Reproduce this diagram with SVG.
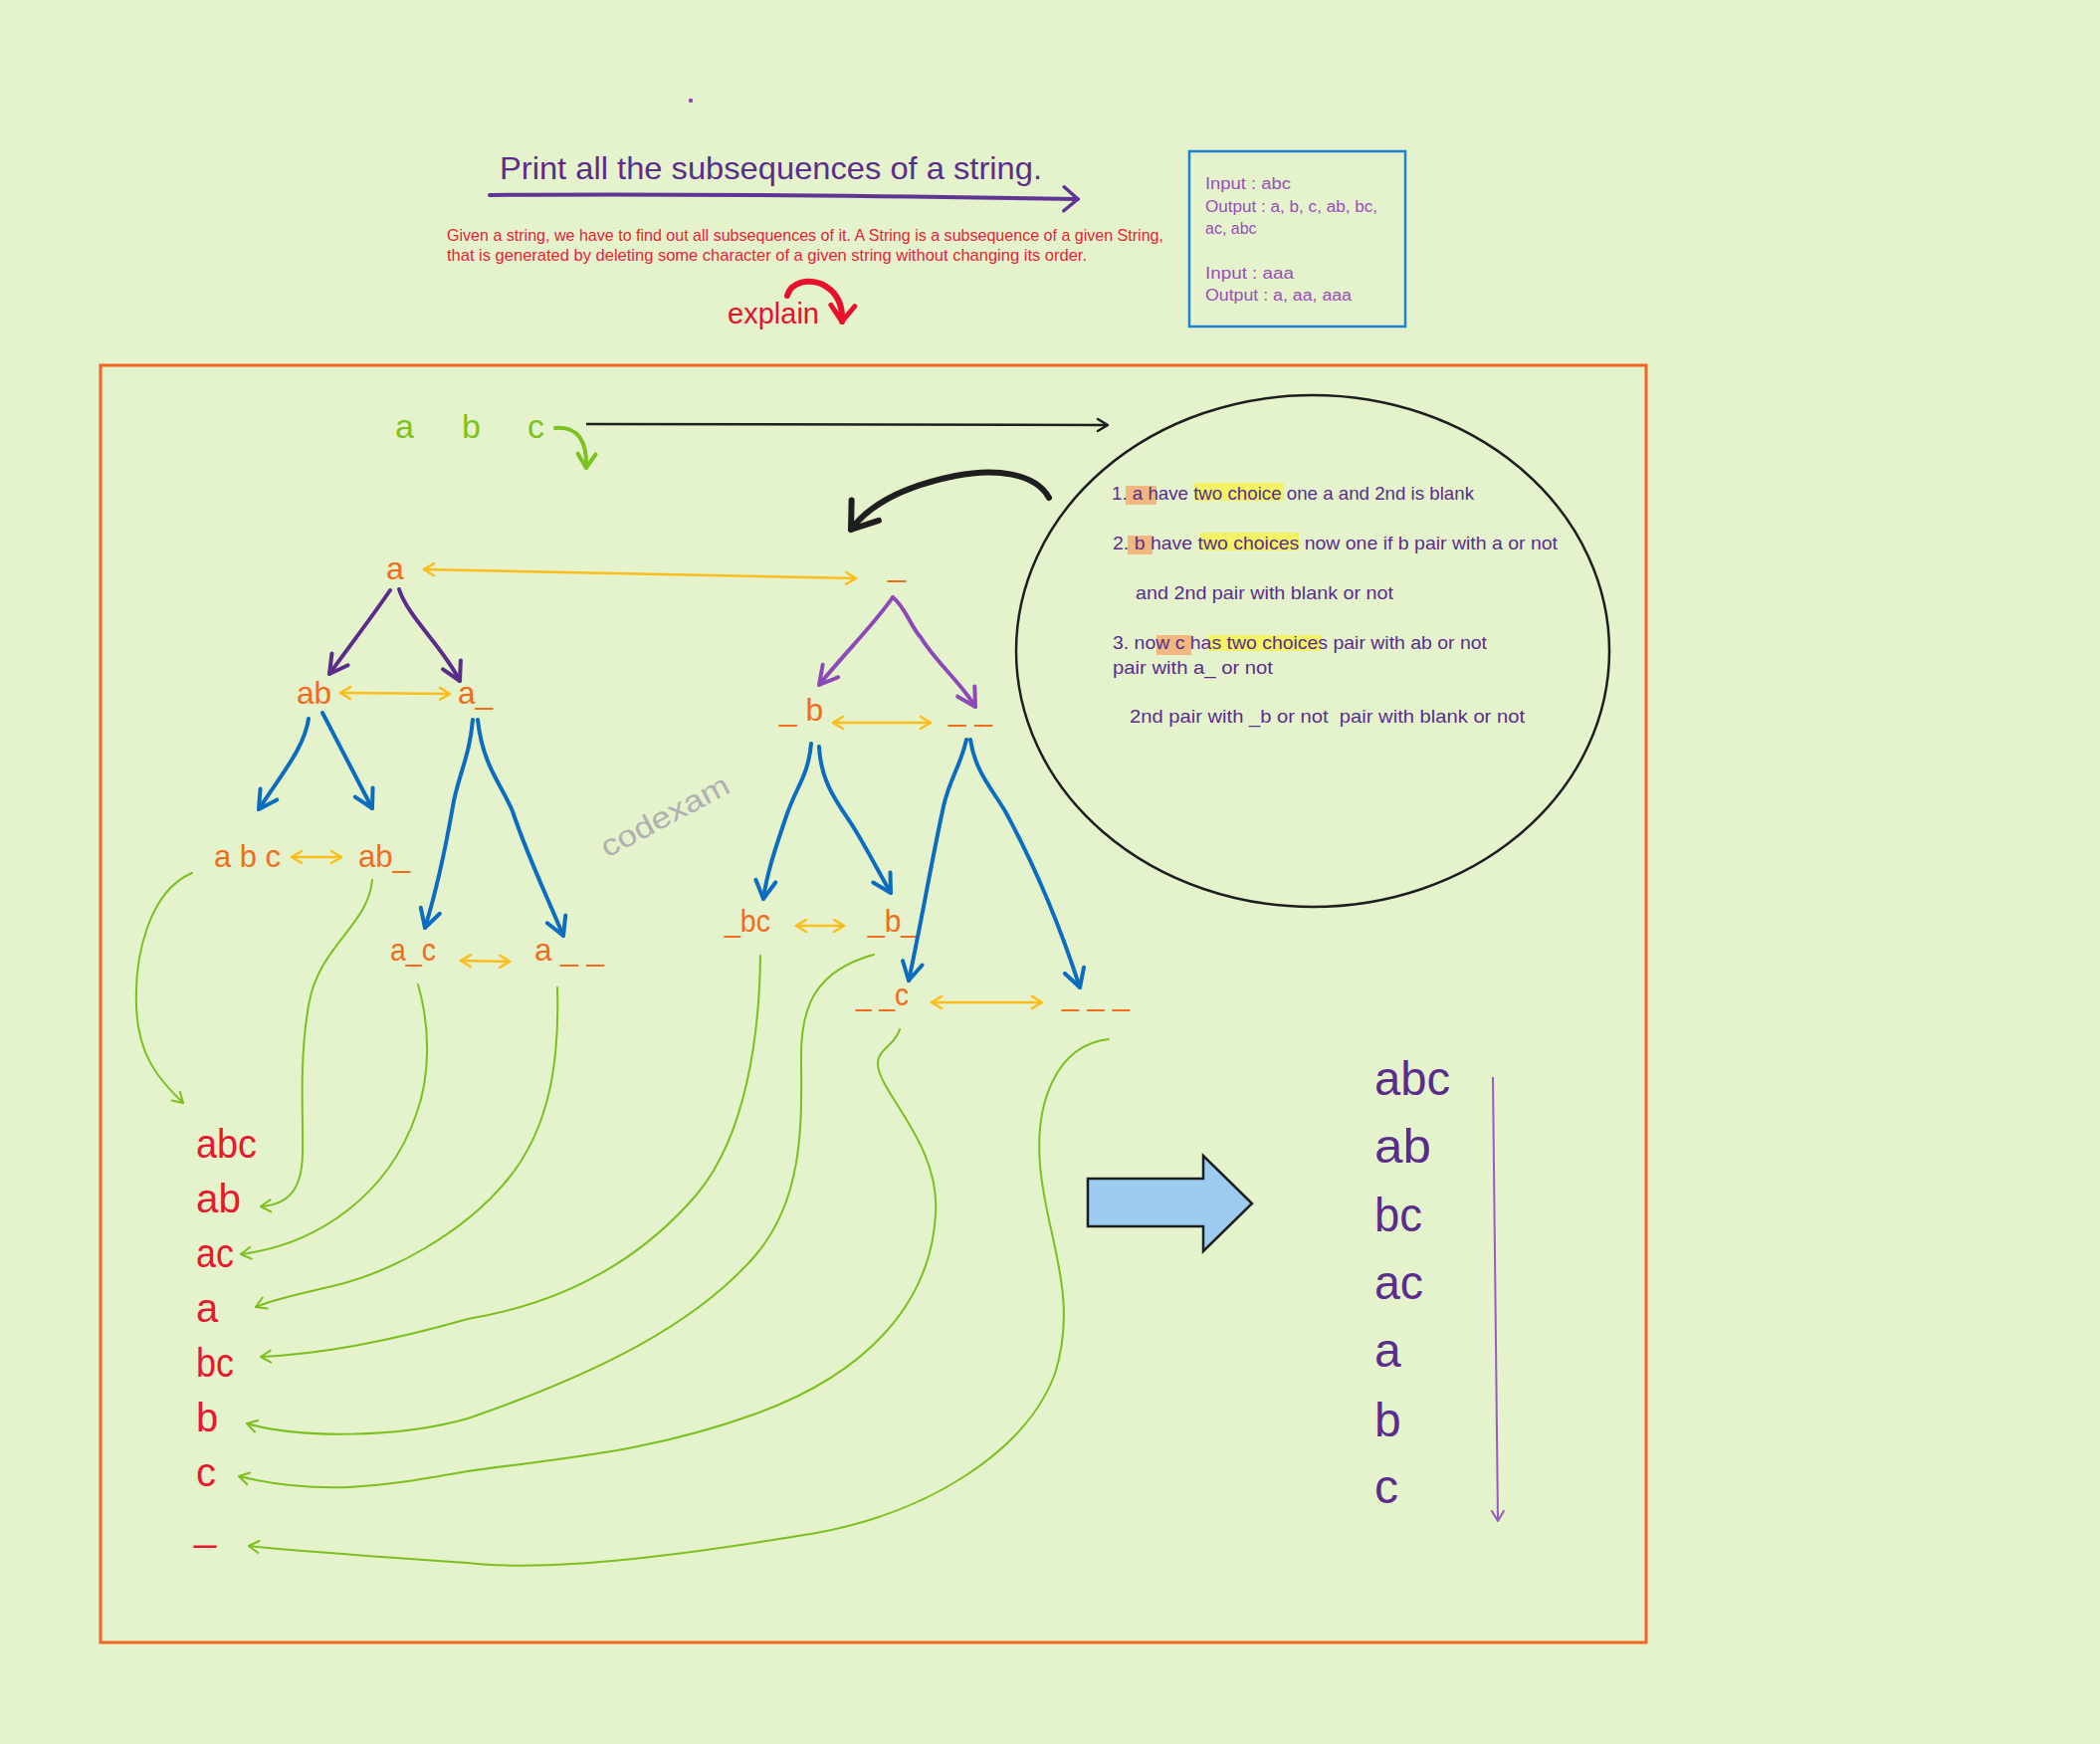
<svg xmlns="http://www.w3.org/2000/svg" width="2110" height="1752" viewBox="0 0 2110 1752">
<style>
text{font-family:"Liberation Sans","DejaVu Sans",sans-serif}
.nd{fill:#f36b1c;font-size:32px}
.gr{fill:#7dc21e;font-size:34px}
.rd{fill:#e8182f;font-size:40px}
.pr{fill:#5a2d8c;font-size:48px}
.ct{fill:#5a2d8c;font-size:19px}
.bx{fill:#9b4dba;font-size:16px}
.yl{fill:none;stroke:#fdbd1b;stroke-width:2.5;stroke-linecap:round;marker-start:url(#mY);marker-end:url(#mY)}
.bl{fill:none;stroke:#0b6cc0;stroke-width:4;stroke-linecap:round;marker-end:url(#mB)}
.pd{fill:none;stroke:#5a2d8c;stroke-width:4;stroke-linecap:round;marker-end:url(#mPD)}
.pl{fill:none;stroke:#8e49b8;stroke-width:4;stroke-linecap:round;marker-end:url(#mPL)}
.gc{fill:none;stroke:#7dbf1e;stroke-width:2;stroke-linecap:round;marker-end:url(#mG)}
.hlo{fill:#f0b87e}
.hly{fill:#f2f365}
</style>
<defs>
<marker id="mY" viewBox="0 0 12 14" refX="11" refY="7" markerWidth="12" markerHeight="14" markerUnits="userSpaceOnUse" orient="auto-start-reverse" overflow="visible"><path d="M1,1 L11,7 L1,13" fill="none" stroke="#fdbd1b" stroke-width="2.5" stroke-linecap="round" stroke-linejoin="round"/></marker>
<marker id="mB" viewBox="0 0 22 24" refX="20" refY="12" markerWidth="22" markerHeight="24" markerUnits="userSpaceOnUse" orient="auto" overflow="visible"><path d="M2,2 L20,12 L2,22" fill="none" stroke="#0b6cc0" stroke-width="4" stroke-linecap="round" stroke-linejoin="round"/></marker>
<marker id="mPD" viewBox="0 0 22 24" refX="20" refY="12" markerWidth="22" markerHeight="24" markerUnits="userSpaceOnUse" orient="auto" overflow="visible"><path d="M2,2 L20,12 L2,22" fill="none" stroke="#5a2d8c" stroke-width="4" stroke-linecap="round" stroke-linejoin="round"/></marker>
<marker id="mPL" viewBox="0 0 22 24" refX="20" refY="12" markerWidth="22" markerHeight="24" markerUnits="userSpaceOnUse" orient="auto" overflow="visible"><path d="M2,2 L20,12 L2,22" fill="none" stroke="#8e49b8" stroke-width="4" stroke-linecap="round" stroke-linejoin="round"/></marker>
<marker id="mG" viewBox="0 0 12 14" refX="11" refY="7" markerWidth="12" markerHeight="14" markerUnits="userSpaceOnUse" orient="auto" overflow="visible"><path d="M1,1 L11,7 L1,13" fill="none" stroke="#7dbf1e" stroke-width="2" stroke-linecap="round" stroke-linejoin="round"/></marker>
<marker id="mGT" viewBox="0 0 18 22" refX="16" refY="11" markerWidth="18" markerHeight="22" markerUnits="userSpaceOnUse" orient="auto" overflow="visible"><path d="M2,2 L16,11 L2,20" fill="none" stroke="#7dc21e" stroke-width="4" stroke-linecap="round" stroke-linejoin="round"/></marker>
<marker id="mK" viewBox="0 0 12 14" refX="11" refY="7" markerWidth="12" markerHeight="14" markerUnits="userSpaceOnUse" orient="auto" overflow="visible"><path d="M1,1 L11,7 L1,13" fill="none" stroke="#1e1e1e" stroke-width="2.5" stroke-linecap="round" stroke-linejoin="round"/></marker>
<marker id="mKT" viewBox="0 0 30 40" refX="27" refY="20" markerWidth="30" markerHeight="40" markerUnits="userSpaceOnUse" orient="auto" overflow="visible"><path d="M3,3 L27,20 L3,37" fill="none" stroke="#1e1e1e" stroke-width="6" stroke-linecap="round" stroke-linejoin="round"/></marker>
<marker id="mR" viewBox="0 0 22 30" refX="19" refY="15" markerWidth="22" markerHeight="30" markerUnits="userSpaceOnUse" orient="auto" overflow="visible"><path d="M3,3 L19,15 L3,27" fill="none" stroke="#e8102a" stroke-width="5" stroke-linecap="round" stroke-linejoin="round"/></marker>
<marker id="mT" viewBox="0 0 18 28" refX="16" refY="14" markerWidth="18" markerHeight="28" markerUnits="userSpaceOnUse" orient="auto" overflow="visible"><path d="M2,2 L16,14 L2,26" fill="none" stroke="#5e3494" stroke-width="3.5" stroke-linecap="round" stroke-linejoin="round"/></marker>
<marker id="mPV" viewBox="0 0 12 14" refX="11" refY="7" markerWidth="12" markerHeight="14" markerUnits="userSpaceOnUse" orient="auto" overflow="visible"><path d="M1,1 L11,7 L1,13" fill="none" stroke="#9b59c6" stroke-width="2" stroke-linecap="round" stroke-linejoin="round"/></marker>
</defs>
<rect width="2110" height="1752" fill="#e4f3cc"/>
<circle cx="694" cy="101" r="2.2" fill="#8e49b8"/>

<g id="header">
<text x="502" y="180" font-size="32" fill="#5a2d8c" textLength="545" lengthAdjust="spacingAndGlyphs">Print all the subsequences of a string.</text>
<text x="449" y="242" font-size="17" fill="#e8223a" textLength="720" lengthAdjust="spacingAndGlyphs">Given a string, we have to find out all subsequences of it. A String is a subsequence of a given String,</text>
<text x="449" y="262" font-size="17" fill="#e8223a" textLength="643" lengthAdjust="spacingAndGlyphs">that is generated by deleting some character of a given string without changing its order.</text>
<text x="731" y="325" font-size="30" fill="#e8102a" textLength="92" lengthAdjust="spacingAndGlyphs">explain</text>
</g>

<g id="io-box">
<rect x="1195" y="152" width="217" height="176" fill="none" stroke="#1f7fd4" stroke-width="2.5"/>
<text class="bx" x="1211" y="190" textLength="86" lengthAdjust="spacingAndGlyphs">Input : abc</text>
<text class="bx" x="1211" y="213" textLength="173" lengthAdjust="spacingAndGlyphs">Output : a, b, c, ab, bc,</text>
<text class="bx" x="1211" y="235">ac, abc</text>
<text class="bx" x="1211" y="280" textLength="89" lengthAdjust="spacingAndGlyphs">Input : aaa</text>
<text class="bx" x="1211" y="302" textLength="147" lengthAdjust="spacingAndGlyphs">Output : a, aa, aaa</text>
</g>

<rect id="frame" x="101" y="367" width="1553" height="1283" fill="none" stroke="#f26522" stroke-width="3"/>

<g id="input-abc">
<text class="gr" x="397" y="440">a</text>
<text class="gr" x="464" y="440">b</text>
<text class="gr" x="530" y="440">c</text>
</g>

<g id="explanation">
<ellipse cx="1319" cy="654" rx="298" ry="257" fill="none" stroke="#1e1e1e" stroke-width="2.5"/>
<rect class="hlo" x="1131" y="488" width="31" height="19"/>
<rect class="hly" x="1200" y="485" width="90" height="18"/>
<rect class="hlo" x="1133" y="538" width="25" height="19"/>
<rect class="hly" x="1206" y="535" width="99" height="18"/>
<rect class="hlo" x="1162" y="638" width="35" height="20"/>
<rect class="hly" x="1214" y="638" width="114" height="16"/>
<text class="ct" x="1117" y="502" textLength="364" lengthAdjust="spacingAndGlyphs">1. a have two choice one a and 2nd is blank</text>
<text class="ct" x="1118" y="552" textLength="447" lengthAdjust="spacingAndGlyphs">2. b have two choices now one if b pair with a or not</text>
<text class="ct" x="1141" y="602" textLength="259" lengthAdjust="spacingAndGlyphs">and 2nd pair with blank or not</text>
<text class="ct" x="1118" y="652" textLength="376" lengthAdjust="spacingAndGlyphs">3. now c has two choices pair with ab or not</text>
<text class="ct" x="1118" y="677" textLength="161" lengthAdjust="spacingAndGlyphs">pair with a_ or not</text>
<text class="ct" x="1135" y="726" textLength="397" lengthAdjust="spacingAndGlyphs" xml:space="preserve" style="white-space:pre">2nd pair with _b or not  pair with blank or not</text>
</g>

<g id="node-a"><text class="nd" x="388" y="582">a</text></g>
<g id="node-blank"><text class="nd" x="892" y="579">_</text></g>
<g id="node-ab"><text class="nd" x="298" y="707" textLength="35" lengthAdjust="spacingAndGlyphs">ab</text></g>
<g id="node-a_"><text class="nd" x="460" y="707" textLength="35" lengthAdjust="spacingAndGlyphs">a_</text></g>
<g id="node-_b"><text class="nd" x="783" y="724" textLength="44" lengthAdjust="spacingAndGlyphs">_ b</text></g>
<g id="node-__"><text class="nd" x="953" y="724" textLength="44" lengthAdjust="spacingAndGlyphs">_ _</text></g>
<g id="node-abc"><text class="nd" x="215" y="871" textLength="67" lengthAdjust="spacingAndGlyphs">a b c</text></g>
<g id="node-ab_"><text class="nd" x="360" y="871" textLength="52" lengthAdjust="spacingAndGlyphs">ab_</text></g>
<g id="node-a_c"><text class="nd" x="392" y="965" textLength="46" lengthAdjust="spacingAndGlyphs">a_c</text></g>
<g id="node-a__"><text class="nd" x="537" y="965" textLength="70" lengthAdjust="spacingAndGlyphs">a _ _</text></g>
<g id="node-_bc"><text class="nd" x="728" y="936" textLength="46" lengthAdjust="spacingAndGlyphs">_bc</text></g>
<g id="node-_b_"><text class="nd" x="872" y="936" textLength="50" lengthAdjust="spacingAndGlyphs">_b_</text></g>
<g id="node-__c"><text class="nd" x="860" y="1010" textLength="53" lengthAdjust="spacingAndGlyphs">_ _c</text></g>
<g id="node-___"><text class="nd" x="1067" y="1010" textLength="68" lengthAdjust="spacingAndGlyphs">_ _ _</text></g>

<text x="610" y="862" font-size="30" fill="#b0b0b0" transform="rotate(-28 610 862)" textLength="142" lengthAdjust="spacingAndGlyphs">codexam</text>

<g id="result-red">
<text class="rd" x="197" y="1163" textLength="61" lengthAdjust="spacingAndGlyphs">abc</text>
<text class="rd" x="197" y="1218" textLength="45" lengthAdjust="spacingAndGlyphs">ab</text>
<text class="rd" x="197" y="1273" textLength="38" lengthAdjust="spacingAndGlyphs">ac</text>
<text class="rd" x="197" y="1328">a</text>
<text class="rd" x="197" y="1383" textLength="38" lengthAdjust="spacingAndGlyphs">bc</text>
<text class="rd" x="197" y="1438">b</text>
<text class="rd" x="197" y="1493">c</text>
<text class="rd" x="195" y="1547">_</text>
</g>

<g id="big-arrow">
<path d="M1093,1184 L1209,1184 L1209,1161 L1258,1209 L1209,1257 L1209,1232 L1093,1232 Z" fill="#9ccbf0" stroke="#1e1e1e" stroke-width="2.5" stroke-linejoin="miter"/>
</g>

<g id="result-purple">
<text class="pr" x="1381" y="1100" textLength="76" lengthAdjust="spacingAndGlyphs">abc</text>
<text class="pr" x="1381" y="1168" textLength="57" lengthAdjust="spacingAndGlyphs">ab</text>
<text class="pr" x="1381" y="1237" textLength="48" lengthAdjust="spacingAndGlyphs">bc</text>
<text class="pr" x="1381" y="1305" textLength="49" lengthAdjust="spacingAndGlyphs">ac</text>
<text class="pr" x="1381" y="1373">a</text>
<text class="pr" x="1381" y="1443">b</text>
<text class="pr" x="1381" y="1510">c</text>
</g>

<g id="connectors">
<path d="M492,196 C700,194 900,197 1083,200" fill="none" stroke="#5e3494" stroke-width="4" stroke-linecap="round" marker-end="url(#mT)"/>
<path d="M791,297 C795,283 812,280 825,285 C840,292 847,305 846,323" fill="none" stroke="#e8102a" stroke-width="6" stroke-linecap="round" marker-end="url(#mR)"/>
<path d="M558,430 C582,428 590,445 589,470" fill="none" stroke="#7dc21e" stroke-width="4" stroke-linecap="round" marker-end="url(#mGT)"/>
<path d="M589,426 L1113,427" fill="none" stroke="#1e1e1e" stroke-width="2.5" marker-end="url(#mK)"/>
<path d="M1054,500 C1040,475 1000,470 960,478 C910,488 875,505 855,532" fill="none" stroke="#1e1e1e" stroke-width="6" stroke-linecap="round" marker-end="url(#mKT)"/>

<path class="yl" d="M426,572 L860,581"/>
<path class="yl" d="M342,696 L452,697"/>
<path class="yl" d="M293,861 L343,861"/>
<path class="yl" d="M463,965 L512,966"/>
<path class="yl" d="M837,726 L935,726"/>
<path class="yl" d="M800,930 L848,930"/>
<path class="yl" d="M936,1007 L1047,1007"/>

<path class="pd" d="M392,593 C375,618 352,648 331,677"/>
<path class="pd" d="M401,592 C410,620 445,650 462,684"/>
<path class="pl" d="M897,600 C880,625 850,655 823,688"/>
<path class="pl" d="M897,600 C910,610 915,630 925,640 C940,665 965,685 980,710"/>

<path class="bl" d="M310,722 C306,750 285,775 260,813"/>
<path class="bl" d="M324,716 L374,812"/>
<path class="bl" d="M475,723 C472,760 460,780 455,810 C448,850 440,890 427,932"/>
<path class="bl" d="M480,723 C485,770 505,790 515,815 C530,860 545,890 566,940"/>
<path class="bl" d="M815,747 C812,780 800,790 790,820 C778,855 770,880 767,903"/>
<path class="bl" d="M823,750 C825,790 845,810 860,835 C875,860 885,880 895,897"/>
<path class="bl" d="M971,743 C965,770 955,780 948,810 C935,870 925,930 913,985"/>
<path class="bl" d="M975,743 C980,775 995,790 1010,815 C1040,870 1065,930 1085,992"/>

<path class="gc" d="M193,877 C150,895 135,960 137,1010 C138,1060 160,1085 184,1108"/>
<path class="gc" d="M374,884 C370,930 320,950 310,1010 C300,1070 305,1120 304,1160 C303,1195 290,1210 262,1212"/>
<path class="gc" d="M420,989 C432,1030 433,1080 418,1120 C390,1200 320,1250 242,1260"/>
<path class="gc" d="M560,992 C562,1060 555,1130 510,1185 C465,1240 390,1280 330,1293 C300,1300 275,1305 257,1313"/>
<path class="gc" d="M764,960 C763,1040 750,1140 700,1200 C640,1270 560,1310 470,1325 C400,1345 330,1360 262,1363"/>
<path class="gc" d="M878,959 C820,975 805,1010 805,1060 C805,1120 810,1200 760,1260 C700,1330 600,1380 470,1425 C400,1445 300,1445 248,1430"/>
<path class="gc" d="M904,1034 C900,1050 880,1055 882,1070 C885,1100 945,1150 940,1220 C935,1310 870,1380 760,1420 C650,1460 560,1465 470,1478 C400,1490 330,1505 240,1483"/>
<path class="gc" d="M1114,1044 C1060,1050 1040,1110 1045,1170 C1050,1240 1085,1300 1060,1380 C1030,1460 930,1520 820,1540 C700,1560 560,1580 470,1570 C400,1565 320,1560 250,1553"/>

<path d="M1500,1082 L1505,1528" fill="none" stroke="#9b59c6" stroke-width="2" marker-end="url(#mPV)"/>
</g>
</svg>
